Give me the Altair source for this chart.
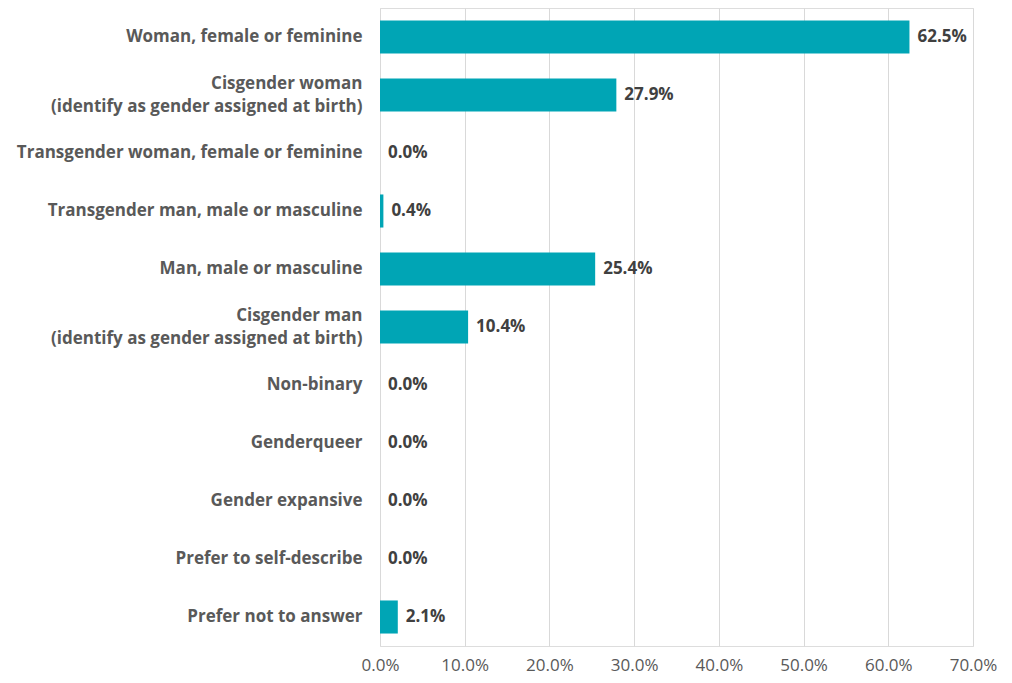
import altair as alt
import pandas as pd

categories = [
    "Woman, female or feminine",
    "Cisgender woman|(identify as gender assigned at birth)",
    "Transgender woman, female or feminine",
    "Transgender man, male or masculine",
    "Man, male or masculine",
    "Cisgender man|(identify as gender assigned at birth)",
    "Non-binary",
    "Genderqueer",
    "Gender expansive",
    "Prefer to self-describe",
    "Prefer not to answer",
]
values = [0.625, 0.279, 0.0, 0.004, 0.254, 0.104, 0.0, 0.0, 0.0, 0.0, 0.021]
x_ticks = [0, 0.1, 0.2, 0.3, 0.4, 0.5, 0.6, 0.7]

df = pd.DataFrame({"category": categories, "value": values})

FONT = "Open Sans"

y = alt.Y(
    "category:N",
    sort=categories,
    title=None,
    scale=alt.Scale(paddingInner=0.43, paddingOuter=0.215),
    axis=alt.Axis(
        labelExpr="split(datum.label, '|')",
        labelFont=FONT,
        labelFontSize=17,
        labelFontWeight="bold",
        labelColor="#595959",
        labelPadding=18,
        labelLimit=400,
        labelLineHeight=23,
        labelOffset={"condition": {"test": "indexof(datum.value, '|') >= 0", "value": -11.5}, "value": 0},
        ticks=False,
        domain=False,
        grid=False,
    ),
)
x = alt.X(
    "value:Q",
    title=None,
    scale=alt.Scale(domain=[0, 0.7], nice=False),
    axis=alt.Axis(
        values=x_ticks,
        format=".1%",
        labelFont=FONT,
        labelFontSize=17,
        labelColor="#595959",
        labelPadding=11,
        labelFlush=False,
        ticks=False,
        domain=False,
        grid=True,
        gridColor="#D9D9D9",
        gridWidth=1,
    ),
)

bars = alt.Chart(df).mark_bar(color="#00A5B5").encode(x=x, y=y)
labels = alt.Chart(df).mark_text(
    align="left", baseline="middle", dx=8, font=FONT, fontSize=17, fontWeight="bold", color="#404040"
).encode(
    x=alt.X("value:Q"),
    y=alt.Y("category:N", sort=categories),
    text=alt.Text("value:Q", format=".1%"),
)

chart = (
    alt.layer(bars, labels)
    .properties(width=593, height=638, autosize=alt.AutoSizeParams(type="none"),
                padding={"left": 372, "top": 0, "right": 30, "bottom": 40})
    .configure_view(stroke="transparent")
    .configure_axis(domain=False, ticks=False)
    .configure(background="white")
)

chart.save("out.html", embed_options={"renderer": "svg", "actions": False})
